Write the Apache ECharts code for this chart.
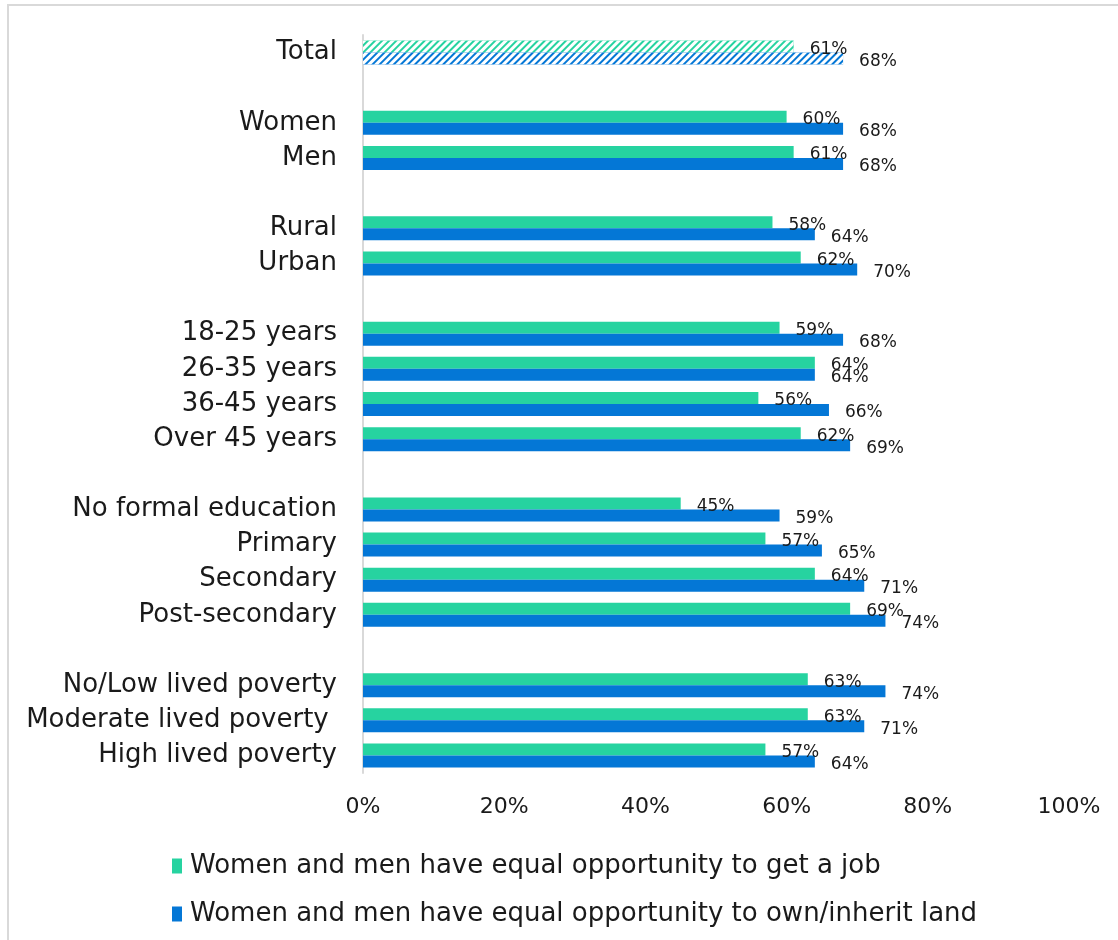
<!DOCTYPE html>
<html>
<head>
<meta charset="utf-8">
<style>
  html, body { margin: 0; padding: 0; background: #fff; }
  #chart { width: 1118px; height: 940px; }
</style>
<script src="https://cdn.jsdelivr.net/npm/echarts@6/dist/echarts.min.js"></script>
</head>
<body>
<div id="chart"></div>
<script>
// Row labels; blank strings are spacer rows between the groups
const categories = [
  'Total', '',
  'Women', 'Men', ' ',
  'Rural', 'Urban', '  ',
  '18-25 years', '26-35 years', '36-45 years', 'Over 45 years', '   ',
  'No formal education', 'Primary', 'Secondary', 'Post-secondary', '    ',
  'No/Low lived poverty', 'Moderate lived poverty ', 'High lived poverty'
];

const seriesNames = [
  'Women and men have equal opportunity to get a job',
  'Women and men have equal opportunity to own/inherit land'
];

// Percent agreeing, per row (null on spacer rows)
const jobValues = [61, null, 60, 61, null, 58, 62, null, 59, 64, 56, 62, null, 45, 57, 64, 69, null, 63, 63, 57];
const landValues = [68, null, 68, 68, null, 64, 70, null, 68, 64, 66, 69, null, 59, 65, 71, 74, null, 74, 71, 64];

const xTicks = [0, 20, 40, 60, 80, 100];

const colors = ['#26d3a0', '#0477d6'];
const FONT = 'DejaVu Sans';

// The overall "Total" row is drawn hatched
function withHatch(values) {
  return values.map((v, i) => {
    if (i !== 0 || v == null) return v;
    return {
      value: v,
      itemStyle: {
        decal: {
          symbol: 'rect',
          symbolSize: 1,
          dashArrayX: [1, 0],
          dashArrayY: [3, 2],
          rotation: -Math.PI / 4,
          color: '#ffffff'
        }
      }
    };
  });
}

const labelStyle = {
  show: true,
  position: 'right',
  distance: 16,
  offset: [0, 3],
  formatter: p => p.value + '%',
  fontFamily: FONT,
  fontSize: 17,
  color: '#1a1a1a'
};

const chart = echarts.init(document.getElementById('chart'), null, { renderer: 'canvas' });

chart.setOption({
  animation: false,
  backgroundColor: '#ffffff',
  color: colors,
  textStyle: { fontFamily: FONT },
  graphic: [{
    type: 'rect',
    shape: { x: 8, y: 5, width: 1200, height: 1000 },
    style: { fill: 'none', stroke: '#d9d9d9', lineWidth: 2 },
    silent: true,
    z: -1
  }],
  grid: { left: 363, right: 49, top: 35, bottom: 167, containLabel: false },
  xAxis: {
    type: 'value',
    min: xTicks[0],
    max: xTicks[xTicks.length - 1],
    interval: xTicks[1] - xTicks[0],
    axisLine: { show: false },
    axisTick: { show: false },
    splitLine: { show: false },
    axisLabel: {
      formatter: '{value}%',
      fontFamily: FONT,
      fontSize: 22,
      color: '#1a1a1a',
      margin: 23
    }
  },
  yAxis: {
    type: 'category',
    data: categories,
    inverse: true,
    axisLine: { show: true, lineStyle: { color: '#d9d9d9', width: 2 } },
    axisTick: { show: false },
    axisLabel: {
      fontFamily: FONT,
      fontSize: 26,
      color: '#1a1a1a',
      margin: 26,
      interval: 0
    }
  },
  legend: {
    orient: 'vertical',
    left: 167,
    top: 848,
    itemGap: 22,
    itemWidth: 10,
    itemHeight: 15,
    icon: 'rect',
    textStyle: { fontFamily: FONT, fontSize: 26, color: '#1a1a1a', padding: [0, 0, 0, 3] },
    data: seriesNames
  },
  series: [
    {
      name: seriesNames[0],
      type: 'bar',
      data: withHatch(jobValues),
      barWidth: 12,
      barGap: '0%',
      label: labelStyle
    },
    {
      name: seriesNames[1],
      type: 'bar',
      data: withHatch(landValues),
      barWidth: 12,
      barGap: '0%',
      label: labelStyle
    }
  ]
});
</script>
</body>
</html>
